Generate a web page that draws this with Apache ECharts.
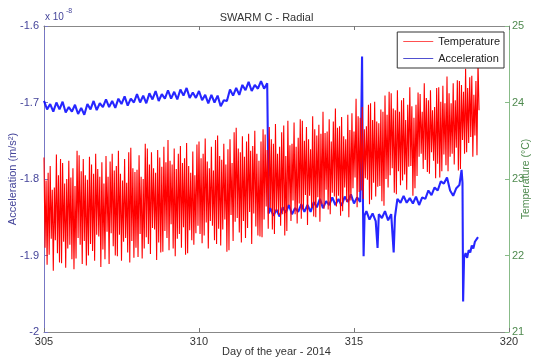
<!DOCTYPE html>
<html>
<head>
<meta charset="utf-8">
<script src="https://cdn.jsdelivr.net/npm/echarts@6/dist/echarts.min.js"></script>
<style>
html,body{margin:0;padding:0;background:#fff;}
#main{width:533px;height:361px;}
</style>
</head>
<body>
<div id="main"></div>
<script>
/* SWARM C - radial acceleration vs temperature */

// temperature, one peak and one trough per orbit (15 per day) from day 305
var tempStart = 305, tempStep = 1 / 15;
var tempPeak = [
 23.28,22.98,23.08,23.17,22.86,22.89,23.32,23.05,23.26,23.21,22.94,23.00,23.24,23.02,23.14,
 22.91,23.37,23.31,23.10,23.26,23.05,22.99,23.29,23.19,23.07,23.33,23.13,23.03,23.22,22.94,
 23.30,23.03,23.23,23.33,23.11,23.17,23.37,23.07,22.98,23.26,22.95,23.35,23.41,23.14,23.09,
 23.12,23.31,23.03,23.00,23.46,23.40,23.19,23.35,23.14,23.08,23.38,23.28,23.16,23.42,23.22,
 23.51,23.24,23.19,23.40,23.13,23.33,23.43,23.21,23.27,23.47,23.17,23.08,23.36,23.05,23.45,
 23.49,23.27,23.33,23.53,23.23,23.14,23.42,23.11,23.51,23.57,23.30,23.25,23.46,23.19,23.39,
 23.52,23.21,23.61,23.67,23.40,23.35,23.56,23.29,23.49,23.59,23.37,23.43,23.63,23.33,23.24,
 23.49,23.65,23.58,23.38,23.68,23.52,23.46,23.72,23.33,23.42,23.61,23.70,23.30,23.76,23.44,
 23.46,23.74,23.42,23.54,23.78,23.76,23.50,23.68,23.52,23.39,23.82,23.65,23.57,23.71,23.59,
 23.88,23.60,23.62,23.78,23.49,23.75,23.92,23.67,23.69,23.81,23.56,23.52,23.84,23.64,23.86,
 23.62,24.05,23.82,23.80,23.94,23.65,23.69,23.97,23.99,23.77,24.01,23.75,23.73,23.91,23.88,
 24.09,23.84,24.14,24.12,23.92,23.90,24.16,23.88,24.03,24.06,23.77,23.97,24.20,23.95,23.80,
 23.97,24.13,24.11,23.88,24.25,24.06,24.03,24.16,23.90,23.94,24.19,24.20,24.01,24.22,23.99,
 24.34,24.12,23.99,24.25,24.03,24.29,24.28,24.23,24.14,24.44,24.19,24.33,24.35,24.10,24.28,
 24.54
];
var tempTrough = [
 22.10,21.88,22.01,22.22,21.80,22.20,22.03,21.91,21.90,22.18,21.84,22.09,22.14,21.95,21.82,
 21.96,22.23,22.14,21.89,22.19,21.87,22.00,22.15,22.06,21.93,22.27,22.25,21.85,22.08,21.95,
 22.31,21.89,22.29,22.12,22.00,21.99,22.27,21.93,22.18,22.23,22.04,21.91,22.19,21.97,22.10,
 21.98,22.28,21.96,22.09,22.24,22.15,22.02,22.36,22.34,21.94,22.17,22.04,22.05,22.32,22.23,
 22.07,22.41,22.09,21.99,22.22,22.28,22.10,22.37,22.01,22.03,22.33,22.20,22.14,22.29,22.39,
 22.28,22.16,22.26,22.43,22.09,22.45,22.39,22.20,22.15,22.35,22.13,22.34,22.47,22.05,22.07,
 22.53,22.19,22.44,22.49,22.30,22.17,22.45,22.23,22.36,22.57,22.15,22.55,22.38,22.26,22.25,
 22.24,22.47,22.64,22.35,22.62,22.34,22.28,22.58,22.53,22.39,22.54,22.26,22.32,22.66,22.45,
 22.72,22.54,22.42,22.68,22.48,22.60,22.79,22.40,22.78,22.62,22.51,22.50,22.76,22.44,22.67,
 22.61,22.86,22.60,22.54,22.82,22.77,22.64,22.78,22.52,22.58,22.89,22.70,22.50,22.72,22.88,
 23.02,22.63,22.83,22.85,22.74,23.01,22.99,22.67,22.73,22.95,22.77,22.90,22.91,22.71,22.65,
 23.00,22.89,23.05,23.14,22.82,22.80,23.10,22.92,22.98,23.06,22.86,23.16,23.17,22.78,22.88,
 23.04,23.29,23.33,23.13,23.25,23.09,23.07,23.35,23.24,23.01,23.20,23.02,23.10,23.32,23.18,
 23.10,23.29,23.33,23.19,23.41,23.11,23.13,23.51,23.33,23.35,23.47,23.55,23.29,23.57,23.31,
 23.90
];

// acceleration [day, value x 1e-8 m/s2]
var accPts = [
 [305.0,-1.698],[305.1,-1.709],[305.2,-1.702],[305.3,-1.712],[305.4,-1.700],[305.5,-1.709],[305.6,-1.699],[305.7,-1.713],[305.8,-1.706],[305.9,-1.712],
 [306.0,-1.703],[306.1,-1.715],[306.2,-1.707],[306.3,-1.716],[306.4,-1.702],[306.5,-1.709],[306.6,-1.698],[306.7,-1.710],[306.8,-1.701],[306.9,-1.706],
 [307.0,-1.696],[307.1,-1.706],[307.2,-1.698],[307.3,-1.707],[307.4,-1.695],[307.5,-1.702],[307.6,-1.692],[307.7,-1.704],[307.8,-1.695],[307.9,-1.700],
 [308.0,-1.689],[308.1,-1.700],[308.2,-1.691],[308.3,-1.701],[308.4,-1.688],[308.5,-1.696],[308.6,-1.685],[308.7,-1.698],[308.8,-1.689],[308.9,-1.695],
 [309.0,-1.684],[309.1,-1.695],[309.2,-1.686],[309.3,-1.696],[309.4,-1.683],[309.5,-1.691],[309.6,-1.681],[309.7,-1.694],[309.8,-1.687],[309.9,-1.694],
 [310.0,-1.685],[310.1,-1.697],[310.2,-1.690],[310.3,-1.701],[310.4,-1.690],[310.5,-1.700],[310.6,-1.691],[310.7,-1.705],[310.8,-1.697],[310.9,-1.698],
 [311.0,-1.683],[311.1,-1.691],[311.2,-1.681],[311.3,-1.690],[311.4,-1.677],[311.5,-1.684],[311.6,-1.673],[311.7,-1.685],[311.8,-1.677],[311.9,-1.682],
 [312.0,-1.672],[312.1,-1.682],[312.2,-1.675],[312.25,-1.845],
 [312.3,-1.838],[312.4,-1.848],[312.5,-1.840],[312.6,-1.849],[312.7,-1.837],[312.8,-1.844],[312.9,-1.834],[313.0,-1.846],[313.1,-1.838],[313.2,-1.843],
 [313.3,-1.833],[313.4,-1.843],[313.5,-1.834],[313.6,-1.843],[313.7,-1.830],[313.8,-1.837],[313.9,-1.826],[314.0,-1.838],[314.1,-1.829],[314.2,-1.834],
 [314.3,-1.824],[314.4,-1.834],[314.5,-1.826],[314.6,-1.835],[314.7,-1.823],[314.8,-1.830],[314.9,-1.820],[315.0,-1.832],[315.1,-1.824],[315.2,-1.830],
 [315.26,-1.640],[315.29,-1.835],[315.31,-1.901],[315.34,-1.848],
 [315.4,-1.842],[315.5,-1.853],[315.6,-1.845],[315.7,-1.855],[315.76,-1.890],[315.8,-1.846],[315.9,-1.851],[316.0,-1.842],[316.1,-1.854],[316.2,-1.846],
 [316.28,-1.896],[316.32,-1.850],
 [316.4,-1.826],[316.5,-1.831],[316.6,-1.822],[316.7,-1.831],[316.8,-1.825],[316.9,-1.832],[317.0,-1.823],[317.1,-1.834],[317.2,-1.824],[317.3,-1.826],
 [317.4,-1.815],[317.5,-1.821],[317.6,-1.811],[317.7,-1.815],[317.8,-1.803],[317.9,-1.806],[318.0,-1.798],[318.1,-1.815],[318.2,-1.822],[318.3,-1.812],
 [318.4,-1.808],[318.47,-1.788],[318.5,-1.805],
 [318.52,-1.960],[318.55,-1.903],[318.6,-1.897],[318.65,-1.903],[318.7,-1.893],[318.75,-1.896],[318.8,-1.887],[318.85,-1.891],[318.9,-1.882],[318.95,-1.884],[319.0,-1.876]
];

var tempData = [];
for (var i = 0; i < tempPeak.length; i++) {
    tempData.push([tempStart + i * tempStep, tempPeak[i]]);
    tempData.push([tempStart + i * tempStep + tempStep / 2, tempTrough[i]]);
}

var chart = echarts.init(document.getElementById('main'));
var font = 'Liberation Sans, Arial, sans-serif';

var option = {
    animation: false,
    textStyle: { fontFamily: font },
    title: {
        text: 'SWARM C - Radial',
        left: 'center',
        top: 7,
        textStyle: { fontSize: 11, fontWeight: 'normal', color: '#333', fontFamily: font }
    },
    legend: {
        orient: 'vertical',
        right: 29,
        top: 32,
        data: [
            { name: 'Temperature', icon: 'rect', itemStyle: { color: '#ff5050', borderWidth: 0 } },
            { name: 'Acceleration', icon: 'rect', itemStyle: { color: '#5050d0', borderWidth: 0 } }
        ],
        itemWidth: 30,
        itemHeight: 1,
        itemGap: 6,
        padding: [4, 4, 4, 6],
        borderColor: '#333',
        borderWidth: 1,
        backgroundColor: '#fff',
        textStyle: { fontSize: 11, color: '#222', fontFamily: font }
    },
    graphic: [
        { type: 'text', left: 45, top: 12, style: { text: 'x 10', fontSize: 10, fill: '#45459a', fontFamily: font } },
        { type: 'text', left: 66, top: 8, style: { text: '-8', fontSize: 7, fill: '#45459a', fontFamily: font } }
    ],
    grid: { left: 44, right: 24, top: 26, bottom: 29, containLabel: false, outerBoundsMode: 'none' },
    xAxis: [{
        type: 'value',
        min: 305, max: 320, interval: 5,
        name: 'Day of the year - 2014',
        nameLocation: 'middle',
        nameGap: 14,
        nameMoveOverlap: false,
        nameTextStyle: { fontSize: 11, color: '#333' },
        axisLine: { lineStyle: { color: '#888' } },
        axisTick: { inside: true, length: 4, lineStyle: { color: '#777' } },
        axisLabel: { fontSize: 11, color: '#333', margin: 4 },
        splitLine: { show: false }
    }, {
        type: 'value',
        position: 'top',
        min: 305, max: 320, interval: 5,
        axisLine: { lineStyle: { color: '#888' } },
        axisTick: { inside: true, length: 4, lineStyle: { color: '#777' } },
        axisLabel: { show: false },
        splitLine: { show: false }
    }],
    yAxis: [{
        type: 'value',
        min: -2, max: -1.6, interval: 0.1,
        name: 'Acceleration (m/s\u00b2)',
        nameLocation: 'middle',
        nameRotate: 90,
        nameGap: 26,
        nameMoveOverlap: false,
        nameTextStyle: { fontSize: 11, color: '#45459a' },
        axisLine: { lineStyle: { color: '#7777c4' } },
        axisTick: { inside: true, length: 4, lineStyle: { color: '#7777c4' } },
        axisLabel: {
            fontSize: 11, color: '#45459a', margin: 5,
            formatter: function (v) { return String(+v.toFixed(1)); }
        },
        splitLine: { show: false }
    }, {
        type: 'value',
        position: 'right',
        min: 21, max: 25, interval: 1,
        name: 'Temperature (\u00b0C)',
        nameLocation: 'middle',
        nameRotate: 90,
        nameGap: 12,
        nameMoveOverlap: false,
        nameTextStyle: { fontSize: 10.5, color: '#4f8a4f' },
        axisLine: { lineStyle: { color: '#88bb88' } },
        axisTick: { inside: true, length: 4, lineStyle: { color: '#88bb88' } },
        axisLabel: { fontSize: 11, color: '#4f8a4f', margin: 3 },
        splitLine: { show: false }
    }],
    series: [{
        name: 'Acceleration',
        type: 'line',
        xAxisIndex: 0,
        yAxisIndex: 0,
        data: accPts,
        showSymbol: false,
        symbol: 'none',
        color: '#0000ff',
        lineStyle: { width: 2.1, color: 'rgba(0,0,255,0.85)' },
        z: 2
    }, {
        name: 'Temperature',
        type: 'line',
        xAxisIndex: 0,
        yAxisIndex: 1,
        data: tempData,
        showSymbol: false,
        symbol: 'none',
        color: '#ff0000',
        lineStyle: { width: 1.1, color: '#ff0000' },
        z: 3
    }]
};

chart.setOption(option);
</script>
</body>
</html>
